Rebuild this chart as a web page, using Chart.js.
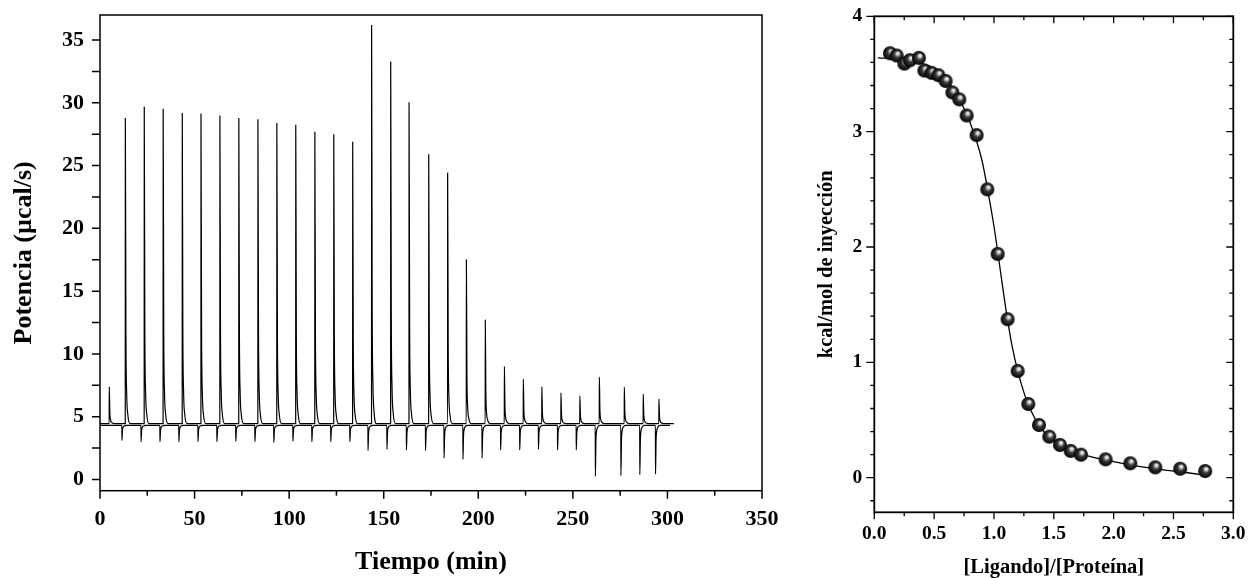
<!DOCTYPE html>
<html lang="es">
<head>
<meta charset="utf-8">
<title>ITC</title>
<script src="https://cdn.jsdelivr.net/npm/chart.js@4"></script>
<style>
  body { margin: 0; background: #fff; }
  .box { position: absolute; top: 0; }
</style>
</head>
<body>
<div class="box" style="left:0"><canvas id="thermo" width="790" height="578"></canvas></div>
<div class="box" style="left:790px"><canvas id="iso" width="458" height="578"></canvas></div>
<script>
// --- termograma (min, µcal/s) ---
var upTimes = [4.9, 13.4, 23.4, 33.4, 43.5, 53.4, 63.4, 73.4, 83.5, 93.5, 103.5, 113.6, 123.6, 133.6, 143.6,
               153.7, 163.4, 173.8, 183.8, 193.7, 203.7, 213.8, 223.8, 233.6, 243.7, 253.7, 264.0, 277.2, 287.2, 295.5];
var upPeaks = [7.4, 28.8, 29.7, 29.5, 29.2, 29.15, 29.0, 28.8, 28.7, 28.4, 28.25, 27.7, 27.5, 26.9, 36.2,
               33.3, 30.05, 25.9, 24.4, 17.5, 12.7, 9.0, 8.0, 7.4, 6.9, 6.65, 8.15, 7.35, 6.8, 6.4];
var downTimes = [11.6, 21.7, 31.7, 41.7, 51.8, 61.8, 71.8, 81.9, 91.9, 102.0, 112.0, 122.0, 132.1, 141.7, 151.7,
                 162.0, 172.1, 181.9, 191.9, 202.0, 211.8, 221.9, 231.8, 241.9, 251.8, 261.9, 275.4, 285.4, 293.7];
var downMins = [3.1, 3.0, 3.0, 3.0, 3.0, 3.0, 3.05, 3.0, 2.95, 3.05, 3.0, 3.0, 3.0, 2.3, 2.4,
                2.35, 2.3, 1.7, 1.6, 1.7, 2.35, 2.35, 2.4, 2.35, 2.35, 0.25, 0.3, 0.37, 0.42];
var upBase = 4.45, upEnd = 303.4;
var downBase = 4.3, downEnd = 301.4;
var thermoXTicks = [0, 50, 100, 150, 200, 250, 300, 350];
var thermoYTicks = [0, 5, 10, 15, 20, 25, 30, 35];

// --- isoterma ---
var ratio = [0.131, 0.187, 0.251, 0.298, 0.373, 0.418, 0.479, 0.535, 0.596, 0.652, 0.710, 0.772, 0.855, 0.944,
             1.031, 1.114, 1.198, 1.287, 1.376, 1.462, 1.551, 1.641, 1.727, 1.933, 2.139, 2.348, 2.556, 2.765];
var heat = [3.68, 3.66, 3.59, 3.62, 3.64, 3.53, 3.51, 3.49, 3.44, 3.34, 3.28, 3.14, 2.97, 2.50,
            1.94, 1.374, 0.925, 0.639, 0.457, 0.356, 0.284, 0.232, 0.200, 0.159, 0.125, 0.090, 0.078, 0.058];
var fitX = [0.03, 0.2, 0.4, 0.5, 0.6, 0.7, 0.8, 0.9, 0.95, 1.0, 1.05, 1.1, 1.15, 1.2, 1.25, 1.3,
            1.4, 1.5, 1.6, 1.7, 1.8, 2.0, 2.2, 2.4, 2.6, 2.77];
var fitY = [3.64, 3.63, 3.59, 3.55, 3.46, 3.30, 3.08, 2.75, 2.48, 2.18, 1.82, 1.46, 1.15, 0.92, 0.74, 0.60,
            0.42, 0.32, 0.26, 0.215, 0.185, 0.14, 0.10, 0.07, 0.045, 0.02];
var isoXTicks = [0, 0.5, 1, 1.5, 2, 2.5, 3];
var isoXLabels = ['0.0', '0.5', '1.0', '1.5', '2.0', '2.5', '3.0'];
var isoYTicks = [0, 1, 2, 3, 4];

// shape of an injection peak: sharp edge then quick return to baseline
var tail = [[0.3, 0.3], [0.7, 0.1], [1.3, 0.03], [2.5, 0]];

function trace(times, peaks, base, end) {
  var pts = [{x: 0, y: base}];
  for (var i = 0; i < times.length; i++) {
    var t = times[i], d = peaks[i] - base;
    pts.push({x: t - 0.05, y: base});
    pts.push({x: t, y: peaks[i]});
    tail.forEach(function (k) { pts.push({x: t + k[0], y: base + d * k[1]}); });
  }
  pts.push({x: end, y: base});
  return pts;
}

function range(a, b, step) {
  var out = [];
  for (var v = a; v <= b + 1e-9; v += step) out.push(+v.toFixed(4));
  return out;
}

var frame = {
  id: 'frame',
  afterDatasetsDraw: function (chart, args, o) {
    var ctx = chart.ctx, a = chart.chartArea;
    ctx.save();
    ctx.strokeStyle = '#000';
    ctx.lineWidth = o.border;
    ctx.strokeRect(a.left, a.top, a.right - a.left, a.bottom - a.top);
    ctx.lineWidth = o.tickWidth;
    ctx.beginPath();
    o.marks.forEach(function (m) {
      var s = chart.scales[m.scale];
      m.values.forEach(function (v) {
        var p = s.getPixelForValue(v);
        if (m.side === 'bottom') { ctx.moveTo(p, a.bottom); ctx.lineTo(p, a.bottom + m.len); }
        if (m.side === 'top') { ctx.moveTo(p, a.top); ctx.lineTo(p, a.top + m.len); }
        if (m.side === 'left') { ctx.moveTo(a.left, p); ctx.lineTo(a.left - m.len, p); }
        if (m.side === 'right') { ctx.moveTo(a.right, p); ctx.lineTo(a.right - m.len, p); }
      });
    });
    ctx.stroke();
    ctx.restore();
  }
};

function sphere(r) {
  var c = document.createElement('canvas');
  c.width = c.height = 2 * r + 2;
  var g = c.getContext('2d');
  var cx = r + 1, cy = r + 1;
  var grad = g.createRadialGradient(cx + r * 0.2, cy - r * 0.35, 0.3, cx, cy, r);
  grad.addColorStop(0, '#ffffff');
  grad.addColorStop(0.18, '#c8c8c8');
  grad.addColorStop(0.45, '#3a3a3a');
  grad.addColorStop(1, '#000000');
  g.fillStyle = grad;
  g.beginPath();
  g.arc(cx, cy, r, 0, Math.PI * 2);
  g.fill();
  return c;
}

var serif = 'Liberation Serif';
Chart.defaults.color = '#000';
Chart.defaults.font.family = serif;
Chart.defaults.font.weight = 'bold';

function fixTicks(list) {
  return function (s) { s.ticks = list.map(function (v) { return {value: v}; }); };
}

// pin an axis box to a fixed size and drop the extra room kept for edge labels
function pin(prop, size) {
  return function (s) {
    s[prop] = size;
    s.paddingTop = s.paddingBottom = s.paddingLeft = s.paddingRight = 0;
  };
}

new Chart(document.getElementById('thermo'), {
  type: 'line',
  data: {
    datasets: [
      { data: trace(upTimes, upPeaks, upBase, upEnd), borderColor: '#000', borderWidth: 1.2,
        pointRadius: 0, cubicInterpolationMode: 'monotone' },
      { data: trace(downTimes, downMins, downBase, downEnd), borderColor: '#000', borderWidth: 1.2,
        pointRadius: 0, cubicInterpolationMode: 'monotone' }
    ]
  },
  options: {
    responsive: false,
    animation: false,
    layout: { padding: { top: 15, right: 28, left: 0, bottom: 0 } },
    plugins: {
      legend: { display: false },
      tooltip: { enabled: false },
      frame: {
        border: 1.5, tickWidth: 1.5,
        marks: [
          { scale: 'x', side: 'bottom', values: thermoXTicks, len: 8 },
          { scale: 'x', side: 'bottom', values: range(25, 325, 50), len: 5 },
          { scale: 'y', side: 'left', values: range(0, 35, 2.5), len: 8 }
        ]
      }
    },
    scales: {
      x: {
        type: 'linear', min: 0, max: 350,
        grid: { display: false, drawTicks: false }, border: { display: false },
        ticks: { padding: 15, font: { size: 22 }, autoSkip: false, maxRotation: 0 },
        afterBuildTicks: fixTicks(thermoXTicks),
        afterFit: pin('height', 87.3),
        title: { display: true, text: 'Tiempo (min)', font: { size: 26 }, padding: { top: 0, bottom: 0 } }
      },
      y: {
        min: -0.9, max: 37,
        grid: { display: false, drawTicks: false }, border: { display: false },
        ticks: { padding: 16, font: { size: 22 }, autoSkip: false },
        afterBuildTicks: fixTicks(thermoYTicks),
        afterFit: pin('width', 100),
        title: { display: true, text: 'Potencia (\u00b5cal/s)', font: { size: 26 }, padding: { top: 9, bottom: 0 } }
      }
    }
  },
  plugins: [frame]
});

var ball = sphere(7);

new Chart(document.getElementById('iso'), {
  type: 'line',
  data: {
    datasets: [
      { data: ratio.map(function (x, i) { return {x: x, y: heat[i]}; }), showLine: false,
        pointStyle: ball, pointRadius: 7 },
      { data: fitX.map(function (x, i) { return {x: x, y: fitY[i]}; }), borderColor: '#000', borderWidth: 1.3,
        pointRadius: 0, cubicInterpolationMode: 'monotone' }
    ]
  },
  options: {
    responsive: false,
    animation: false,
    layout: { padding: { top: 16.3, right: 14.7, left: 0, bottom: 0 } },
    plugins: {
      legend: { display: false },
      tooltip: { enabled: false },
      frame: {
        border: 1.8, tickWidth: 1.3,
        marks: [
          { scale: 'x', side: 'bottom', values: isoXTicks, len: 7 },
          { scale: 'x', side: 'bottom', values: range(0.25, 2.75, 0.5), len: 4 },
          { scale: 'x', side: 'top', values: isoXTicks, len: 7 },
          { scale: 'x', side: 'top', values: range(0.25, 2.75, 0.5), len: 4 },
          { scale: 'y', side: 'left', values: isoYTicks, len: 8 },
          { scale: 'y', side: 'left', values: range(-0.2, 3.8, 0.2), len: 4 },
          { scale: 'y', side: 'right', values: isoYTicks, len: 7 },
          { scale: 'y', side: 'right', values: range(-0.2, 3.8, 0.2), len: 4 }
        ]
      }
    },
    scales: {
      x: {
        type: 'linear', min: 0, max: 3,
        grid: { display: false, drawTicks: false }, border: { display: false },
        ticks: { padding: 10, font: { size: 19.5 }, autoSkip: false, maxRotation: 0,
                 callback: function (v, i) { return isoXLabels[i]; } },
        afterBuildTicks: fixTicks(isoXTicks),
        afterFit: pin('height', 65.7),
        title: { display: true, text: '[Ligando]/[Prote\u00edna]', font: { size: 20.5, lineHeight: 1 },
                 padding: { top: 0, bottom: 0 } }
      },
      y: {
        min: -0.3, max: 4,
        grid: { display: false, drawTicks: false }, border: { display: false },
        ticks: { padding: 12, font: { size: 19.5 }, autoSkip: false },
        afterBuildTicks: fixTicks(isoYTicks),
        afterFit: pin('width', 84.3),
        title: { display: true, text: 'kcal/mol de inyecci\u00f3n', font: { size: 20.5 }, padding: { top: 24, bottom: 0 } }
      }
    }
  },
  plugins: [frame]
});
</script>
</body>
</html>
